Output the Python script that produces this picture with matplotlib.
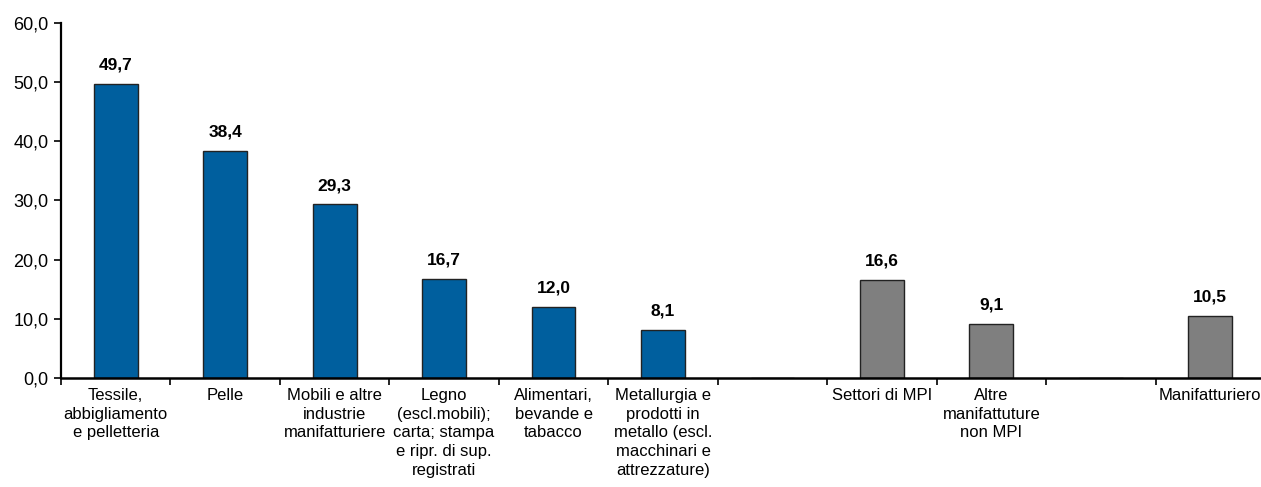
import matplotlib.pyplot as plt
import numpy as np

plt.rcParams['font.family'] = ['Liberation Sans', 'DejaVu Sans']

categories = ["Tessile,\nabbigliamento\ne pelletteria", "Pelle",
              "Mobili e altre\nindustrie\nmanifatturiere",
              "Legno\n(escl.mobili);\ncarta; stampa\ne ripr. di sup.\nregistrati",
              "Alimentari,\nbevande e\ntabacco",
              "Metallurgia e\nprodotti in\nmetallo (escl.\nmacchinari e\nattrezzature)",
              "", "Settori di MPI", "Altre\nmanifattuture\nnon MPI", "", "Manifatturiero"]
values = [49.7, 38.4, 29.3, 16.7, 12.0, 8.1, np.nan, 16.6, 9.1, np.nan, 10.5]
colors = ['#005F9E'] * 6 + ['none', '#7F7F7F', '#7F7F7F', 'none', '#7F7F7F']

fig = plt.figure(figsize=(12.61, 4.87), dpi=100)
ax = fig.add_axes([61 / 1261, 0.2238, 1204 / 1261, 0.7296])

x = np.arange(len(categories))
bars = ax.bar(x, np.nan_to_num(values), width=0.4, color=colors,
              edgecolor='#222222', linewidth=1.0)
for xi, v in zip(x, values):
    if not np.isnan(v):
        ax.text(xi, v + 1.9, f"{v:.1f}".replace('.', ','), ha='center',
                va='bottom', fontsize=12.5, fontweight='bold')

ax.set_xlim(-0.5, len(categories) - 0.5)
ax.set_ylim(0, 60)
ax.set_yticks(np.arange(0, 61, 10))
ax.set_yticklabels([f"{t:.1f}".replace('.', ',') for t in np.arange(0, 61, 10)],
                   fontsize=13)
ax.set_xticks(x)
ax.set_xticklabels(categories, fontsize=12, linespacing=1.32, va='top')
ax.set_xticks(np.arange(-0.5, len(categories)), minor=True)
ax.tick_params(axis='x', which='major', length=0, pad=7)
ax.tick_params(axis='x', which='minor', length=5, width=1.2, direction='out')
ax.tick_params(axis='y', length=5, width=1.2, direction='out', pad=4)

for s in ['top', 'right']:
    ax.spines[s].set_visible(False)
ax.spines['left'].set_linewidth(1.6)
ax.spines['bottom'].set_linewidth(1.8)

plt.savefig("out.png")
